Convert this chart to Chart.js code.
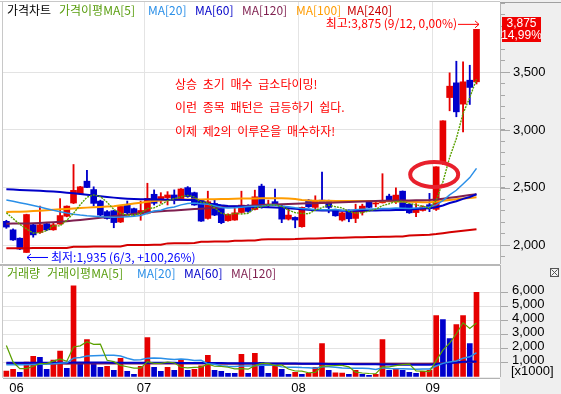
<!DOCTYPE html>
<html><head><meta charset="utf-8">
<script src="https://cdn.jsdelivr.net/npm/chart.js@4.4.1/dist/chart.umd.min.js"></script>
<style>
html,body{margin:0;padding:0;background:#fff;}
#wrap{position:relative;width:561px;height:394px;overflow:hidden;background:#fff;}
canvas{position:absolute;left:0;}
#cp{top:0;}
#cv{top:264px;}
.t{position:absolute;font-size:12px;font-family:'Noto Sans CJK KR','Noto Sans',sans-serif;white-space:nowrap;line-height:14px;}
.a{color:#ff0000;word-spacing:3px;}
</style></head>
<body><div id="wrap">
<canvas id="cp" width="561" height="264"></canvas>
<canvas id="cv" width="561" height="130"></canvas>
<div class="t" style="left:7px;top:3px;color:#000">가격차트</div>
<div class="t" style="left:59px;top:3px;color:#5a9e10">가격이평MA[5]</div>
<div class="t" style="left:148px;top:3px;color:#2a8fe8">MA[20]</div>
<div class="t" style="left:195px;top:3px;color:#0000c8">MA[60]</div>
<div class="t" style="left:242px;top:3px;color:#7f1f4f">MA[120]</div>
<div class="t" style="left:296px;top:3px;color:#ff9c00">MA[100]</div>
<div class="t" style="left:347px;top:3px;color:#c80000">MA[240]</div>
<div class="t a" style="left:175px;top:77px">상승 초기 매수 급소타이밍!</div>
<div class="t a" style="left:175px;top:100px">이런 종목 패턴은 급등하기 쉽다.</div>
<div class="t a" style="left:175px;top:124px">이제 제2의 이루온을 매수하자!</div>
<div class="t" style="left:7px;top:266px;color:#5a9e10">거래량</div>
<div class="t" style="left:47px;top:266px;color:#5a9e10">거래이평MA[5]</div>
<div class="t" style="left:137px;top:266px;color:#2a8fe8">MA[20]</div>
<div class="t" style="left:184px;top:266px;color:#0000c8">MA[60]</div>
<div class="t" style="left:231px;top:266px;color:#7f1f4f">MA[120]</div>
</div>
<script>
// ---------------- data ----------------
const dates = ['5/29','5/30','6/2','6/3','6/5','6/9','6/10','6/11','6/12','6/13','6/16','6/17','6/18','6/19','6/20','6/23','6/24','6/25','6/26','6/27','6/30','7/1','7/2','7/3','7/4','7/7','7/8','7/9','7/10','7/11','7/14','7/15','7/16','7/17','7/18','7/21','7/22','7/23','7/24','7/25','7/28','7/29','7/30','7/31','8/1','8/4','8/5','8/6','8/7','8/8','8/11','8/12','8/13','8/14','8/18','8/19','8/20','8/21','8/22','8/25','8/26','8/27','8/28','8/29','9/1','9/2','9/3','9/4','9/5','9/11','9/12'];
const monthLabels = ['06','07','08','09'];

const open  = [2206,2132,2059,1935,2176,2109,2185,2132,2182,2250, 2365,2445,2555,2482,2382,2290,2298,2200,2345,2316, 2270,2276,2441,2392,2412,2435,2392,2499,2455,2390, 2231,2361,2318,2211,2217,2283,2340,2309,2512,2345, 2377,2338,2225,2240,2159,2390,2327,2390,2384,2309, 2217,2303,2231,2289,2376,2357,2367,2425,2390,2468, 2355,2282,2300,2350,2310,2720,3282,3410,3225,3433, 3419];
const high  = [2215,2140,2062,2268,2180,2338,2195,2197,2403,2340, 2700,2510,2650,2506,2390,2300,2303,2340,2382,2320, 2382,2537,2479,2455,2464,2479,2490,2508,2460,2395, 2468,2390,2320,2270,2332,2468,2350,2477,2529,2390, 2487,2345,2318,2245,2330,2396,2428,2633,2390,2312, 2285,2305,2355,2355,2380,2384,2620,2442,2497,2470, 2360,2361,2340,2449,2680,3080,3497,3598,3592,3563, 3875];
const low   = [2145,2040,1960,1935,2068,2100,2125,2128,2180,2245, 2360,2440,2498,2340,2255,2225,2150,2195,2270,2258, 2215,2270,2348,2363,2348,2357,2390,2415,2345,2205, 2225,2255,2185,2208,2215,2276,2285,2305,2320,2330, 2345,2194,2217,2150,2155,2327,2303,2361,2280,2250, 2208,2202,2194,2260,2325,2332,2365,2376,2361,2320, 2275,2246,2295,2290,2300,2700,3167,3115,2984,3222, 3400];
const close = [2156,2044,1965,2265,2088,2176,2132,2176,2256,2338, 2475,2506,2500,2362,2260,2230,2195,2335,2280,2265, 2300,2406,2363,2421,2435,2392,2487,2421,2348,2208, 2376,2260,2194,2266,2280,2347,2292,2419,2327,2355, 2348,2225,2260,2217,2327,2332,2384,2367,2327,2254, 2280,2228,2303,2338,2327,2361,2381,2390,2434,2325, 2280,2318,2333,2333,2680,3080,3381,3158,3419,3370, 3875];

const ma5   = [2280,2230,2180,2140,2104,2108,2125,2167,2166,2216, 2275,2350,2415,2436,2421,2372,2309,2276,2260,2261, 2275,2317,2323,2351,2385,2403,2420,2431,2417,2371, 2368,2323,2277,2261,2275,2269,2276,2321,2333,2348, 2348,2335,2303,2281,2275,2272,2304,2325,2347,2333, 2322,2291,2278,2281,2295,2311,2342,2359,2379,2378, 2362,2349,2338,2318,2389,2549,2761,2926,3144,3282, 3441];
const ma20  = [2391,2380,2368,2356,2344,2330,2316,2302,2290,2278, 2268,2260,2254,2250,2246,2244,2242,2243,2246,2250, 2257,2276,2295,2303,2321,2331,2349,2361,2366,2359, 2355,2342,2327,2322,2323,2329,2334,2338,2340,2345, 2347,2338,2333,2323,2317,2314,2309,2307,2306,2308, 2303,2301,2307,2311,2313,2314,2318,2317,2322,2320, 2317,2322,2325,2331,2349,2386,2436,2476,2530,2586, 2666];
const ma60  = [2484,2482,2479,2477,2474,2471,2468,2465,2461,2455, 2450,2444,2438,2431,2424,2418,2412,2407,2403,2400, 2398,2397,2396,2395,2394,2394,2393,2392,2391,2380, 2362,2352,2345,2340,2337,2335,2333,2331,2330,2328, 2326,2324,2320,2315,2310,2306,2303,2301,2300,2299, 2298,2298,2298,2299,2300,2301,2302,2303,2304,2305, 2307,2312,2318,2319,2329,2344,2365,2381,2401,2418, 2441];
const ma120 = [2185,2186,2187,2188,2190,2192,2195,2198,2202,2207, 2213,2218,2224,2230,2236,2243,2250,2257,2264,2271, 2278,2284,2289,2293,2297,2300,2304,2308,2312,2316, 2320,2324,2328,2332,2335,2338,2341,2344,2347,2350, 2352,2354,2356,2358,2360,2362,2364,2366,2368,2370, 2372,2374,2376,2378,2380,2382,2384,2385,2386,2387, 2388,2389,2390,2391,2395,2402,2410,2418,2427,2434, 2441];
const ma100 = [2288,2289,2290,2292,2295,2298,2302,2306,2310,2314, 2318,2321,2325,2328,2331,2335,2338,2345,2352,2360, 2368,2376,2383,2388,2391,2393,2394,2395,2395,2396, 2397,2398,2399,2400,2402,2404,2405,2405,2406,2406, 2406,2406,2405,2400,2392,2388,2385,2384,2384,2383, 2383,2383,2382,2382,2382,2381,2381,2380,2379,2378, 2376,2374,2372,2371,2376,2384,2392,2398,2404,2409, 2415];
const ma240 = [1971,1971,1972,1972,1973,1973,1974,1974,1975,1975, 1984,1985,1985,1986,1986,1987,1987,1988,1999,2000, 2000,2001,2002,2002,2014,2015,2016,2016,2017,2028, 2029,2030,2030,2031,2037,2038,2039,2040,2048,2049, 2050,2050,2051,2052,2055,2056,2057,2058,2060,2062, 2064,2066,2067,2068,2069,2070,2071,2072,2073,2074, 2082,2085,2087,2089,2095,2103,2110,2117,2124,2130, 2136];

// volume in 1000 shares
const volume = [411,529,316,1048,1449,1378,529,1189,1827,600, 6476,930,2653,883,670,741,458,1307,387,175, 741,2795,670,387,670,458,1213,458,529,788, 1520,458,387,245,245,1591,245,1661,1024,245, 788,529,175,316,175,245,670,2370,458,280, 260,175,458,175,104,175,2653,458,600,458, 316,245,387,458,4350,4070,2723,3715,4350,2370, 6004];
const volumeUp = [1,1,0,1,1,0,0,1,1,0, 1,0,1,0,0,1,0,1,0,0, 1,1,0,0,1,0,1,0,1,1, 1,0,0,0,0,1,0,1,0,0, 1,0,0,1,0,1,1,1,0,1, 1,0,1,0,0,1,1,0,1,0, 0,0,1,1,1,0,0,1,1,0, 1];
const vma5   = [2230,1050,580,580,751,944,944,1119,1274,1105, 2124,2204,2497,2308,2322,1175,1081,812,713,614, 614,1081,954,954,1053,996,680,637,666,689, 902,751,736,680,571,585,543,797,953,953, 793,849,552,411,397,288,316,755,784,805, 808,709,326,270,234,217,713,713,798,869, 897,415,401,373,1151,1902,2398,3063,3842,3446, 3832];
const vma20  = [860,860,850,860,880,900,900,920,960,1000, 1330,1380,1480,1500,1520,1540,1530,1480,1320,1198, 1214,1328,1345,1312,1273,1227,1262,1225,1160,1169, 922,898,785,753,732,774,763,781,813,817, 819,706,681,677,653,642,615,710,707,681, 618,604,608,604,597,526,647,587,565,576, 553,538,549,556,765,956,1059,1126,1321,1425, 1712];
const vma60  = [1000,1000,1001,1002,1003,1004,1004,1005,1006,1006, 1010,1010,1011,1011,1010,1009,1008,1006,1004,1002, 1000,1000,998,996,994,992,990,988,986,984, 980,977,974,971,968,965,962,959,956,953, 950,946,942,938,934,930,926,922,918,914, 910,905,900,895,890,885,880,872,866,863, 862,857,858,849,897,942,978,1020,1062,1092, 1084];
const vma120 = [940,940,940,939,939,939,938,938,938,937, 940,940,940,940,940,939,939,939,938,938, 938,941,941,940,940,940,940,939,939,939, 938,938,937,937,936,936,936,935,935,935, 934,934,933,933,932,932,932,934,934,933, 933,932,932,931,931,930,932,932,931,931, 930,930,930,930,950,975,995,1015,1035,1048, 1060];

const priceTickLabels = [2000, 2500, 3000, 3500];
const volumeTickLabels = [1000, 2000, 3000, 4000, 5000, 6000];

// ---------------- helpers ----------------
const RED = '#e60000', BLUE = '#0000cc';
const KR = "'Noto Sans CJK KR','Noto Sans',sans-serif";
const NUM = "'Liberation Sans Narrow','Liberation Sans',Arial,sans-serif";
const N = dates.length;
const X_MIN = -0.5, X_MAX = N - 0.5 + 3;
const fmt = v => Math.round(v).toLocaleString('en-US');
const pct = v => (v >= 0 ? '' : '-') + Math.abs(v).toFixed(2).replace('.', ',') + '%';

const monthStarts = [];
for (let i = 1; i < N; i++) {
  if (dates[i].split('/')[0] !== dates[i-1].split('/')[0]) monthStarts.push(i);
}
const monthBounds = monthStarts.map(i => i - 0.5);
const candleColors = open.map((o, i) => close[i] >= o ? RED : BLUE);
const volColors = volumeUp.map(u => u ? RED : BLUE);

function line(label, arr, color, width, dash, order) {
  return { type: 'line', label, data: arr.map((v, i) => ({ x: i, y: v })), borderColor: color,
    borderWidth: width, borderDash: dash, pointRadius: 0, tension: 0, fill: false, order };
}
function noPad(s) { s.paddingTop = 0; s.paddingBottom = 0; s.paddingLeft = 0; s.paddingRight = 0; }

// ---------------- price chart ----------------
const maxIdx = high.indexOf(Math.max(...high));
const minIdx = low.indexOf(Math.min(...low));
const last = N - 1;
const highlight = { index: 63.7, price: 2613 };

const pricePlugin = {
  id: 'pricePlugin',
  beforeDraw(chart) {
    const c = chart.ctx, a = chart.chartArea;
    c.save();
    c.fillStyle = '#fff'; c.fillRect(0, 0, chart.width, chart.height);
    c.fillStyle = '#efefef'; c.fillRect(a.right, 0, chart.width - a.right, chart.height);
    c.restore();
  },
  afterDraw(chart) {
    const c = chart.ctx, a = chart.chartArea, xs = chart.scales.x, ys = chart.scales.y;
    c.save();
    c.strokeStyle = '#c8c8c8'; c.lineWidth = 1;
    c.beginPath(); c.moveTo(2.5, a.top); c.lineTo(2.5, a.bottom); c.stroke();
    c.beginPath(); c.moveTo(0, 1.5); c.lineTo(a.right, 1.5); c.stroke();
    c.strokeStyle = '#a0a0a0';
    c.beginPath(); c.moveTo(a.right, 2.5); c.lineTo(chart.width, 2.5); c.stroke();
    c.strokeStyle = '#a8a8a8';
    priceTickLabels.forEach(v => {
      const y = Math.round(ys.getPixelForValue(v)) + 0.5;
      c.beginPath(); c.moveTo(a.right, y); c.lineTo(a.right + 10, y); c.stroke();
    });
    c.strokeStyle = '#e8202c'; c.lineWidth = 4;
    c.beginPath();
    c.ellipse(xs.getPixelForValue(highlight.index), ys.getPixelForValue(highlight.price), 24, 12.5, 0, 0, Math.PI * 2);
    c.stroke();
    c.font = '12px ' + KR; c.textBaseline = 'middle';
    const tipX = xs.getPixelForValue(maxIdx) + 2.5, tipY = ys.getPixelForValue(high[maxIdx]) - 5.5;
    c.fillStyle = '#ff0000'; c.strokeStyle = '#ff0000'; c.lineWidth = 1;
    c.textAlign = 'right';
    c.fillText('최고:' + fmt(high[maxIdx]) + ' (' + dates[maxIdx] + ', ' + pct((close[last] - high[maxIdx]) / high[maxIdx] * 100) + ')', tipX - 22, tipY);
    c.beginPath(); c.moveTo(tipX - 21, tipY + 0.5); c.lineTo(tipX, tipY + 0.5); c.stroke();
    c.beginPath(); c.moveTo(tipX - 4, tipY - 3); c.lineTo(tipX, tipY + 0.5); c.lineTo(tipX - 4, tipY + 4); c.stroke();
    const mX = xs.getPixelForValue(minIdx) + 0.5, mY = ys.getPixelForValue(low[minIdx]) + 4.5;
    c.fillStyle = '#0000ff'; c.strokeStyle = '#0000ff';
    c.textAlign = 'left';
    c.fillText('최저:' + fmt(low[minIdx]) + ' (' + dates[minIdx] + ', +' + pct((close[last] - low[minIdx]) / low[minIdx] * 100) + ')', mX + 24, mY);
    c.beginPath(); c.moveTo(mX, mY + 0.5); c.lineTo(mX + 21, mY + 0.5); c.stroke();
    c.beginPath(); c.moveTo(mX + 4, mY - 3); c.lineTo(mX, mY + 0.5); c.lineTo(mX + 4, mY + 4); c.stroke();
    const cy = ys.getPixelForValue(close[last]);
    c.fillStyle = '#f00000';
    c.fillRect(a.right + 2, Math.round(cy - 12.5), 39, 25);
    c.fillStyle = '#fff'; c.textAlign = 'center'; c.font = '12px ' + NUM;
    c.fillText(fmt(close[last]), a.right + 21.5, cy - 6);
    c.fillText(pct((close[last] - close[last - 1]) / close[last - 1] * 100), a.right + 21.5, cy + 6);
    c.restore();
  }
};

new Chart(document.getElementById('cp'), {
  type: 'bar',
  data: { datasets: [
    line('MA[5]', ma5, '#5aa000', 1.4, [2, 1], 1),
    line('MA[20]', ma20, '#2a8fe8', 1.5, [], 2),
    line('MA[60]', ma60, '#0000c8', 2, [], 3),
    line('MA[120]', ma120, '#7f1f4f', 2, [], 4),
    line('MA[100]', ma100, '#ff9c00', 2, [], 5),
    line('MA[240]', ma240, '#d40000', 2, [], 6),
    { type: 'bar', label: 'body', data: open.map((o, i) => ({ x: i, y: [o, close[i]] })),
      backgroundColor: candleColors, barThickness: 6, minBarLength: 1, grouped: false, order: 10 },
    { type: 'bar', label: 'wick', data: low.map((l, i) => ({ x: i, y: [l, high[i]] })),
      backgroundColor: candleColors, barThickness: 1.2, grouped: false, order: 11 }
  ]},
  options: {
    responsive: false, animation: false, events: [],
    layout: { padding: { left: 3, top: 2, right: 0, bottom: 1 } },
    plugins: { legend: { display: false }, tooltip: { enabled: false } },
    scales: {
      x: { type: 'linear', min: X_MIN, max: X_MAX, offset: false,
        afterBuildTicks: s => { s.ticks = monthBounds.map(v => ({ value: v })); },
        afterFit: s => { s.height = 0; noPad(s); },
        ticks: { display: false },
        grid: { offset: false, drawTicks: false, color: c => (c.tick && c.tick.value === monthBounds[0]) ? 'rgba(0,0,0,0)' : '#e4e4e4' },
        border: { display: false } },
      y: { position: 'right', min: 1843.5, max: 4113,
        afterBuildTicks: s => { const t = []; for (let v = 1900; v <= 4100; v += 100) t.push({ value: v }); s.ticks = t; },
        afterFit: s => { s.width = 61; noPad(s); },
        ticks: { autoSkip: false, padding: 8, color: '#000', font: { family: NUM, size: 13 },
          callback: v => priceTickLabels.includes(v) ? fmt(v) : '' },
        grid: { tickLength: 5, tickColor: '#a8a8a8', color: c => (c.tick && priceTickLabels.includes(c.tick.value)) ? '#e3e3e3' : 'rgba(0,0,0,0)' },
        border: { display: true, color: '#b4b4b4' } }
    }
  },
  plugins: [pricePlugin]
});

// ---------------- volume chart ----------------
const volPlugin = {
  id: 'volPlugin',
  beforeDraw(chart) {
    const c = chart.ctx, a = chart.chartArea;
    c.save();
    c.fillStyle = '#fff'; c.fillRect(0, 0, chart.width, chart.height);
    c.fillStyle = '#efefef'; c.fillRect(a.right, 0, chart.width - a.right, chart.height);
    c.restore();
  },
  afterDraw(chart) {
    const c = chart.ctx, a = chart.chartArea;
    c.save();
    c.strokeStyle = '#a0a0a0'; c.lineWidth = 1.5;
    c.beginPath(); c.moveTo(0, 1); c.lineTo(a.right, 1); c.stroke();
    c.lineWidth = 1;
    c.beginPath(); c.moveTo(3, a.bottom + 1.5); c.lineTo(a.right, a.bottom + 1.5); c.stroke();
    c.strokeStyle = '#c8c8c8';
    c.beginPath(); c.moveTo(2.5, 1); c.lineTo(2.5, a.bottom + 1); c.stroke();
    c.strokeStyle = '#555'; c.fillStyle = '#f4f4f4';
    c.fillRect(550.5, 4.5, 8, 8); c.strokeRect(550.5, 4.5, 8, 8);
    c.beginPath(); c.moveTo(551.5, 5.5); c.lineTo(557.5, 11.5); c.moveTo(557.5, 5.5); c.lineTo(551.5, 11.5); c.stroke();
    c.fillStyle = '#000'; c.font = '13px ' + NUM; c.textBaseline = 'middle'; c.textAlign = 'left';
    c.fillText('[x1000]', a.right + 11, a.bottom - 5);
    c.restore();
  }
};

new Chart(document.getElementById('cv'), {
  type: 'bar',
  data: { datasets: [
    line('MA[5]', vma5, '#5aa000', 1.2, [], 1),
    line('MA[20]', vma20, '#2a8fe8', 1.5, [], 2),
    line('MA[60]', vma60, '#0000c8', 2, [], 3),
    line('MA[120]', vma120, '#7f1f4f', 2, [], 4),
    { type: 'bar', label: '거래량', data: volume.map((v, i) => ({ x: i, y: v })),
      backgroundColor: volColors, barThickness: 5, grouped: false, order: 10 }
  ]},
  options: {
    responsive: false, animation: false, events: [],
    layout: { padding: { left: 3, top: 1.5, right: 0, bottom: 0 } },
    plugins: { legend: { display: false }, tooltip: { enabled: false } },
    scales: {
      x: { type: 'linear', min: X_MIN, max: X_MAX, offset: false,
        afterBuildTicks: s => { s.ticks = monthBounds.map(v => ({ value: v })); },
        afterFit: s => { s.height = 17.2; noPad(s); },
        ticks: { autoSkip: false, maxRotation: 0, padding: 4, color: '#000', font: { family: NUM, size: 13 },
          callback: v => monthLabels[monthBounds.indexOf(v)] },
        grid: { offset: false, drawTicks: false, color: c => (c.tick && c.tick.value === monthBounds[0]) ? 'rgba(0,0,0,0)' : '#e4e4e4' },
        border: { display: false } },
      y: { position: 'right', min: 0, max: 7918,
        afterBuildTicks: s => { s.ticks = volumeTickLabels.map(v => ({ value: v })); },
        afterFit: s => { s.width = 61; noPad(s); },
        ticks: { autoSkip: false, padding: 4, labelOffset: -2, color: '#000', font: { family: NUM, size: 13 }, callback: v => fmt(v) },
        grid: { tickLength: 8, tickColor: '#a8a8a8', color: '#e3e3e3' },
        border: { display: true, color: '#b4b4b4' } }
    }
  },
  plugins: [volPlugin]
});
</script>
</body></html>
